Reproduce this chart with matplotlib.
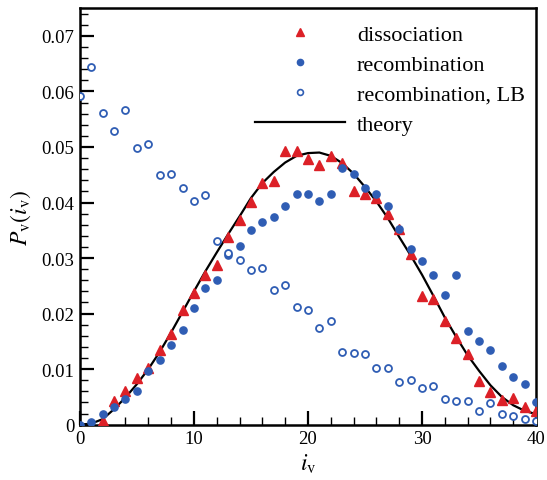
import numpy as np
import matplotlib
matplotlib.use("Agg")
import matplotlib.pyplot as plt
from matplotlib.ticker import MultipleLocator, FuncFormatter
from matplotlib.lines import Line2D

plt.rcParams['font.family'] = 'Liberation Serif'
plt.rcParams['mathtext.fontset'] = 'stix'

iv = np.arange(0, 41)

# dissociation (red triangles), i = 2..40
diss_i = np.arange(2, 41)
diss = [0.0007, 0.0042, 0.0061, 0.0084, 0.0102, 0.0135, 0.0163, 0.0206, 0.0237,
        0.0270, 0.0288, 0.0338, 0.0369, 0.0401, 0.0435, 0.0439, 0.0492, 0.0493,
        0.0478, 0.0468, 0.0483, 0.0472, 0.0420, 0.0416, 0.0409, 0.0380, 0.0353,
        0.0307, 0.0231, 0.0226, 0.0186, 0.0156, 0.0128, 0.0078, 0.0058, 0.0045,
        0.0048, 0.0031, 0.0024]

# recombination (filled circles), i = 0..40
recomb = [0.0, 0.0005, 0.0019, 0.0032, 0.0046, 0.0060, 0.0096, 0.0116, 0.0143,
          0.0171, 0.0210, 0.0246, 0.0261, 0.0306, 0.0322, 0.0350, 0.0365, 0.0374,
          0.0394, 0.0416, 0.0416, 0.0402, 0.0416, 0.0462, 0.0451, 0.0426, 0.0416,
          0.0394, 0.0353, 0.0317, 0.0295, 0.0270, 0.0233, 0.0270, 0.0168, 0.0151,
          0.0135, 0.0105, 0.0086, 0.0074, 0.0041]

# recombination, LB (open circles), i = 0..40
recomb_lb = [0.0591, 0.0644, 0.0561, 0.0529, 0.0566, 0.0499, 0.0505, 0.0449, 0.0451,
             0.0427, 0.0403, 0.0413, 0.0331, 0.0309, 0.0297, 0.0278, 0.0282, 0.0242,
             0.0252, 0.0211, 0.0207, 0.0174, 0.0186, 0.0131, 0.0129, 0.0127, 0.0102,
             0.0102, 0.0077, 0.0081, 0.0066, 0.0069, 0.0047, 0.0043, 0.0042, 0.0024,
             0.0039, 0.0019, 0.0016, 0.0010, 0.0007]

# theory curve, i = 0..40
theory = [0.0, 0.0002, 0.0010, 0.0028, 0.0049, 0.0073, 0.0100, 0.0131, 0.0166,
          0.0203, 0.0240, 0.0276, 0.0310, 0.0343, 0.0375, 0.0408, 0.0435, 0.0455,
          0.0472, 0.0484, 0.0489, 0.0490, 0.0484, 0.0471, 0.0452, 0.0428, 0.0402,
          0.0372, 0.0338, 0.0305, 0.0270, 0.0232, 0.0193, 0.0158, 0.0125, 0.0097,
          0.0071, 0.0050, 0.0035, 0.0025, 0.0019]

red = '#dc2027'
blue = '#2f5db4'

fig = plt.figure(figsize=(5.47, 4.81), dpi=100)
ax = fig.add_axes([0.146, 0.115, 0.834, 0.866])

ax.plot(iv, theory, color='black', lw=1.6, zorder=2)
ax.plot(diss_i, diss, ls='none', marker='^', ms=6.5, color=red, mec=red, zorder=3)
ax.plot(iv, recomb, ls='none', marker='o', ms=5.2, color=blue, mec=blue, zorder=3)
ax.plot(iv, recomb_lb, ls='none', marker='o', ms=5, mfc='white', mec=blue, mew=1.3, zorder=3)

ax.set_xlim(0, 40)
ax.set_ylim(0, 0.075)
ax.xaxis.set_major_locator(MultipleLocator(10))
ax.xaxis.set_minor_locator(MultipleLocator(2))
ax.yaxis.set_major_locator(MultipleLocator(0.01))
ax.yaxis.set_minor_locator(MultipleLocator(0.002))
ax.yaxis.set_major_formatter(FuncFormatter(lambda v, _: f'{v:g}'))
ax.tick_params(which='major', direction='in', length=10, width=1.6, labelsize=13.5, pad=4)
ax.tick_params(which='minor', direction='in', length=6, width=1.0)
ax.tick_params(top=False, right=False, which='both')
for s in ax.spines.values():
    s.set_linewidth(1.8)

ax.set_xlabel(r'$i_{\rm v}$', fontsize=17, labelpad=3)
ax.set_ylabel(r'$P_{\rm v}(i_{\rm v})$', fontsize=17, labelpad=6)

handles = [
    Line2D([], [], ls='none', marker='^', ms=5.5, color=red),
    Line2D([], [], ls='none', marker='o', ms=4.5, color=blue),
    Line2D([], [], ls='none', marker='o', ms=4.2, mfc='white', mec=blue, mew=1.2),
    Line2D([], [], color='black', lw=1.6),
]
labels = ['dissociation', 'recombination', 'recombination, LB', 'theory']
ax.legend(handles, labels, loc='upper left', bbox_to_anchor=(0.384, 0.962),
          frameon=False, fontsize=16, handlelength=4.05, handletextpad=0.54,
          labelspacing=0.43, borderpad=0, borderaxespad=0)

fig.savefig('out.png', dpi=100)
